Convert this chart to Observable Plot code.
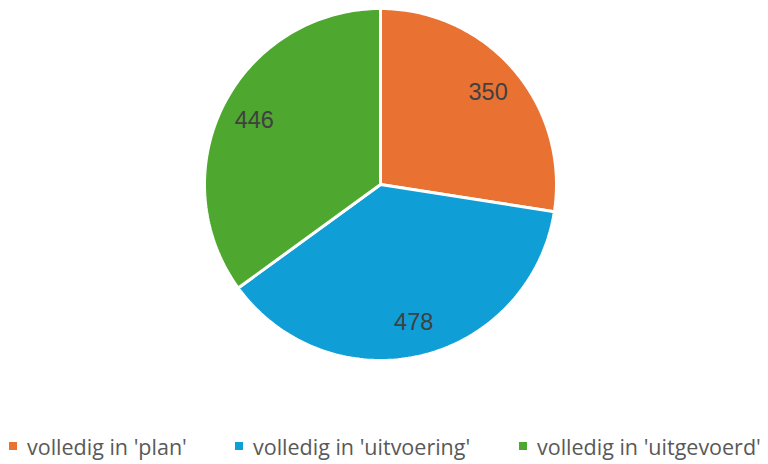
<!DOCTYPE html>
<html>
<head>
<meta charset="utf-8">
<script src="https://cdn.jsdelivr.net/npm/d3@7"></script>
<script src="https://cdn.jsdelivr.net/npm/@observablehq/plot@0.6"></script>
<style>
  html, body { margin: 0; padding: 0; background: #fff; }
  #wrap { position: relative; width: 768px; height: 464px; }
  #legend { position: absolute; left: 0; top: 430px; width: 768px; height: 32px;
    font-family: "Open Sans", "Noto Sans", sans-serif; font-size: 21.5px; color: #595959; }
  .item { position: absolute; top: 0; display: flex; align-items: center; height: 32px; white-space: nowrap; }
  .sw { width: 8px; height: 8px; margin-right: 10px; }
</style>
</head>
<body>
<div id="wrap"><div id="chart"></div><div id="legend"></div></div>
<script>
const categories = ["volledig in 'plan'", "volledig in 'uitvoering'", "volledig in 'uitgevoerd'"];
const values = [350, 478, 446];
const colors = ["#E97132", "#0F9ED5", "#4EA72E"];
const legendLeft = [9, 235, 519];

const arcs = d3.pie().sort(null).startAngle(0).endAngle(2 * Math.PI)(values);
const slices = [];
arcs.forEach((a, i) => {
  slices.push({cat: categories[i], x: 0, y: 0});
  const n = 120;
  for (let k = 0; k <= n; k++) {
    const t = a.startAngle + (a.endAngle - a.startAngle) * k / n;
    slices.push({cat: categories[i], x: Math.sin(t), y: Math.cos(t)});
  }
  slices.push({cat: categories[i], x: 0, y: 0});
});
const labels = arcs.map((a, i) => {
  const m = (a.startAngle + a.endAngle) / 2;
  return {text: String(values[i]), x: 0.805 * Math.sin(m), y: 0.805 * Math.cos(m)};
});

const chart = Plot.plot({
  width: 768,
  height: 420,
  marginLeft: 204,
  marginRight: 212,
  marginTop: 8,
  marginBottom: 60,
  x: {domain: [-1, 1], axis: null},
  y: {domain: [-1, 1], axis: null},
  color: {domain: categories, range: colors},
  style: {background: "transparent"},
  marks: [
    Plot.line(slices, {x: "x", y: "y", z: "cat", fill: "cat", stroke: "white", strokeWidth: 3, curve: "linear-closed", strokeLinejoin: "miter"}),
    Plot.text(labels, {x: "x", y: "y", text: "text", fill: "#404040", fontSize: 23.5, fontFamily: "Liberation Sans, Arial, sans-serif"})
  ]
});
document.getElementById("chart").appendChild(chart);

const leg = document.getElementById("legend");
categories.forEach((c, i) => {
  const it = document.createElement("div");
  it.className = "item";
  it.style.left = legendLeft[i] + "px";
  it.innerHTML = `<span class="sw" style="background:${colors[i]}"></span><span>${c}</span>`;
  leg.appendChild(it);
});
</script>
</body>
</html>
